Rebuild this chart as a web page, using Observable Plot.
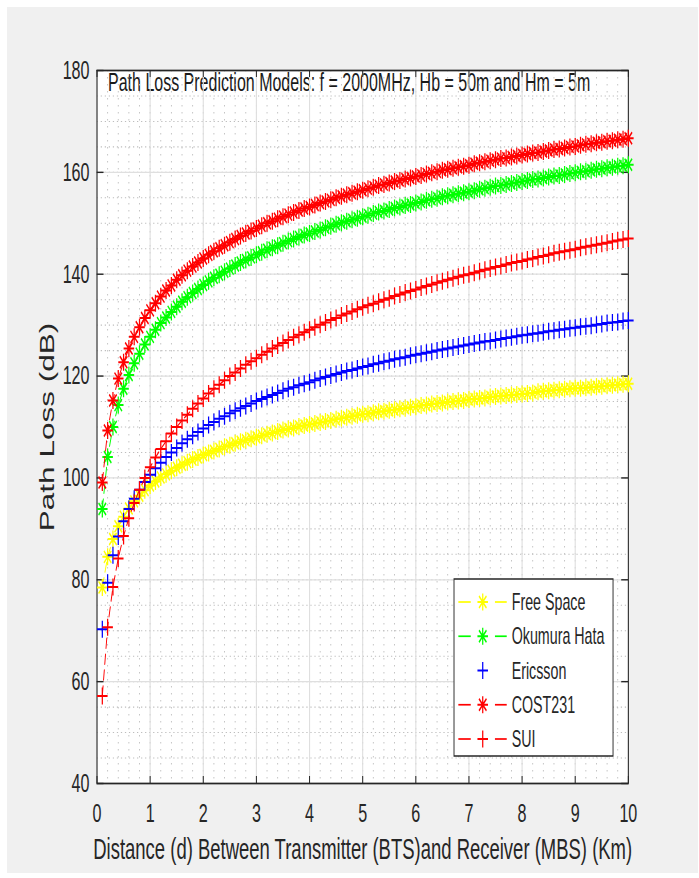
<!DOCTYPE html>
<html><head><meta charset="utf-8">
<script src="https://cdn.jsdelivr.net/npm/d3@7"></script>
<script src="https://cdn.jsdelivr.net/npm/@observablehq/plot@0.6"></script>
<style>
html,body{margin:0;padding:0;background:#fff;}
#bg{position:absolute;left:7px;top:7px;width:691px;height:866px;background:#f0f0f0;}
#chart{position:absolute;left:0;top:0;width:699px;height:878px;}
</style></head><body>
<div id="bg"></div><div id="chart"></div>
<script>
const distance = [0.1,0.2,0.3,0.4,0.5,0.6,0.7,0.8,0.9,1.0,
1.1,1.2,1.3,1.4,1.5,1.6,1.7,1.8,1.9,2.0,
2.1,2.2,2.3,2.4,2.5,2.6,2.7,2.8,2.9,3.0,
3.1,3.2,3.3,3.4,3.5,3.6,3.7,3.8,3.9,4.0,
4.1,4.2,4.3,4.4,4.5,4.6,4.7,4.8,4.9,5.0,
5.1,5.2,5.3,5.4,5.5,5.6,5.7,5.8,5.9,6.0,
6.1,6.2,6.3,6.4,6.5,6.6,6.7,6.8,6.9,7.0,
7.1,7.2,7.3,7.4,7.5,7.6,7.7,7.8,7.9,8.0,
8.1,8.2,8.3,8.4,8.5,8.6,8.7,8.8,8.9,9.0,
9.1,9.2,9.3,9.4,9.5,9.6,9.7,9.8,9.9,10.0];

const freeSpace = [78.5,84.5,88.0,90.5,92.4,94.0,95.4,96.5,97.6,98.5,
99.3,100.1,100.7,101.4,102.0,102.6,103.1,103.6,104.0,104.5,
104.9,105.3,105.7,106.1,106.4,106.8,107.1,107.4,107.7,108.0,
108.3,108.6,108.8,109.1,109.4,109.6,109.8,110.1,110.3,110.5,
110.7,110.9,111.1,111.3,111.5,111.7,111.9,112.1,112.3,112.5,
112.6,112.8,113.0,113.1,113.3,113.4,113.6,113.7,113.9,114.0,
114.2,114.3,114.5,114.6,114.7,114.9,115.0,115.1,115.2,115.4,
115.5,115.6,115.7,115.9,116.0,116.1,116.2,116.3,116.4,116.5,
116.6,116.7,116.9,117.0,117.1,117.2,117.3,117.4,117.5,117.6,
117.6,117.7,117.8,117.9,118.0,118.1,118.2,118.3,118.4,118.5];

const okumuraHata = [93.9,104.1,110.0,114.3,117.5,120.2,122.5,124.4,126.2,127.7,
129.1,130.4,131.5,132.6,133.6,134.6,135.5,136.3,137.1,137.9,
138.6,139.3,139.9,140.5,141.1,141.7,142.3,142.8,143.3,143.8,
144.3,144.8,145.2,145.6,146.1,146.5,146.9,147.3,147.7,148.0,
148.4,148.7,149.1,149.4,149.8,150.1,150.4,150.7,151.0,151.3,
151.6,151.9,152.2,152.4,152.7,153.0,153.2,153.5,153.7,154.0,
154.2,154.5,154.7,154.9,155.2,155.4,155.6,155.8,156.0,156.2,
156.4,156.7,156.9,157.1,157.3,157.4,157.6,157.8,158.0,158.2,
158.4,158.6,158.7,158.9,159.1,159.3,159.4,159.6,159.8,159.9,
160.1,160.2,160.4,160.6,160.7,160.9,161.0,161.2,161.3,161.5];

const ericsson = [70.3,79.4,84.8,88.5,91.5,93.9,95.9,97.7,99.2,100.6,
101.9,103.0,104.1,105.0,105.9,106.8,107.6,108.3,109.0,109.7,
110.4,111.0,111.6,112.1,112.7,113.2,113.7,114.1,114.6,115.1,
115.5,115.9,116.3,116.7,117.1,117.5,117.8,118.2,118.5,118.8,
119.2,119.5,119.8,120.1,120.4,120.7,121.0,121.2,121.5,121.8,
122.0,122.3,122.5,122.8,123.0,123.3,123.5,123.7,124.0,124.2,
124.4,124.6,124.8,125.0,125.2,125.4,125.6,125.8,126.0,126.2,
126.4,126.6,126.8,126.9,127.1,127.3,127.5,127.6,127.8,128.0,
128.1,128.3,128.4,128.6,128.8,128.9,129.1,129.2,129.4,129.5,
129.7,129.8,129.9,130.1,130.2,130.4,130.5,130.6,130.8,130.9];

const cost231 = [99.1,109.3,115.2,119.5,122.7,125.4,127.7,129.6,131.4,132.9,
134.3,135.6,136.8,137.8,138.9,139.8,140.7,141.5,142.3,143.1,
143.8,144.5,145.1,145.7,146.3,146.9,147.5,148.0,148.5,149.0,
149.5,150.0,150.4,150.9,151.3,151.7,152.1,152.5,152.9,153.2,
153.6,154.0,154.3,154.6,155.0,155.3,155.6,155.9,156.2,156.5,
156.8,157.1,157.4,157.6,157.9,158.2,158.4,158.7,158.9,159.2,
159.4,159.7,159.9,160.1,160.4,160.6,160.8,161.0,161.2,161.4,
161.7,161.9,162.1,162.3,162.5,162.7,162.8,163.0,163.2,163.4,
163.6,163.8,163.9,164.1,164.3,164.5,164.6,164.8,165.0,165.1,
165.3,165.5,165.6,165.8,165.9,166.1,166.2,166.4,166.5,166.7];

const sui = [57.2,70.7,78.6,84.2,88.6,92.1,95.1,97.7,100.0,102.1,
104.0,105.7,107.2,108.7,110.0,111.3,112.4,113.6,114.6,115.6,
116.6,117.5,118.3,119.2,120.0,120.7,121.5,122.2,122.9,123.5,
124.2,124.8,125.4,126.0,126.5,127.1,127.6,128.1,128.6,129.1,
129.6,130.1,130.5,131.0,131.4,131.9,132.3,132.7,133.1,133.5,
133.9,134.2,134.6,135.0,135.3,135.7,136.0,136.4,136.7,137.0,
137.4,137.7,138.0,138.3,138.6,138.9,139.2,139.5,139.8,140.0,
140.3,140.6,140.9,141.1,141.4,141.6,141.9,142.2,142.4,142.6,
142.9,143.1,143.4,143.6,143.8,144.1,144.3,144.5,144.7,144.9,
145.2,145.4,145.6,145.8,146.0,146.2,146.4,146.6,146.8,147.0];

const seriesNames = ["Free Space", "Okumura Hata", "Ericsson", "COST231", "SUI"];
const seriesColors = ["#ffff00", "#00ff00", "#0000ff", "#ff0000", "#ff0000"];
const seriesMarkers = ["asterisk", "asterisk", "plus", "asterisk", "plus"];
const seriesDashed = [true, true, false, true, true];
const seriesValues = [freeSpace, okumuraHata, ericsson, cost231, sui];

const xTicks = [0, 1, 2, 3, 4, 5, 6, 7, 8, 9, 10];
const yTicks = [40, 60, 80, 100, 120, 140, 160, 180];
const titleText = "Path Loss Prediction Models: f = 2000MHz, Hb = 50m and Hm = 5m";
const xLabel = "Distance (d) Between Transmitter (BTS)and Receiver (MBS) (Km)";
const yLabel = "Path Loss (dB)";

// layout (virtual, horizontally compressed when displayed)
const VW = 1127, H = 878;
const ML = 155.9, MR = 114.4, MT = 70, MB = 95;
const FW = VW - ML - MR, FH = H - MT - MB;
const AX = "#262626";

const plusSym = {draw(ctx, size) {
  const r = Math.sqrt(size / Math.PI);
  ctx.moveTo(-r, 0); ctx.lineTo(r, 0); ctx.moveTo(0, -r); ctx.lineTo(0, r);
}};
const astSym = {draw(ctx, size) {
  const r = Math.sqrt(size / Math.PI), q = r * Math.SQRT1_2;
  ctx.moveTo(-r, 0); ctx.lineTo(r, 0); ctx.moveTo(0, -r); ctx.lineTo(0, r);
  ctx.moveTo(-q, -q); ctx.lineTo(q, q); ctx.moveTo(-q, q); ctx.lineTo(q, -q);
}};
const symOf = m => m === "plus" ? plusSym : astSym;
const MR_SIZE = 8.5, MSW = 2.0;

const xMinor = d3.range(0.2, 10, 0.2);
const yMinor = d3.range(45, 180, 5);

const marks = [
  Plot.frame({fill: "white", stroke: null}),
  Plot.text([titleText], {frameAnchor: "top-left", dx: 17.8, dy: 20.7, lineAnchor: "bottom", textAnchor: "start", fontSize: 25.8, fill: "#1a1a1a", text: d => d}),
  Plot.ruleX(xMinor, {x: d => d, stroke: "#bdbdbd", strokeWidth: 1.4, strokeDasharray: "1.5,5.5"}),
  Plot.ruleY(yMinor, {y: d => d, stroke: "#bdbdbd", strokeWidth: 1.1, strokeDasharray: "2,4.5"}),
  Plot.ruleX(xTicks, {x: d => d, stroke: "#dfdfdf", strokeWidth: 1.8}),
  Plot.ruleY(yTicks, {y: d => d, stroke: "#dfdfdf", strokeWidth: 1.3}),
  Plot.frame({stroke: AX, strokeWidth: 1.7}),
  Plot.tickX(xTicks, {x: d => d, insetTop: FH - 7, stroke: AX, strokeWidth: 1.6}),
  Plot.tickX(xTicks, {x: d => d, insetBottom: FH - 7, stroke: AX, strokeWidth: 1.6}),
  Plot.tickY(yTicks, {y: d => d, insetRight: FW - 11, stroke: AX, strokeWidth: 1.4}),
  Plot.tickY(yTicks, {y: d => d, insetLeft: FW - 11, stroke: AX, strokeWidth: 1.4}),
  Plot.axisX(xTicks, {tickSize: 0, tickPadding: 20, fontSize: 26, fill: AX, label: null}),
  Plot.axisY(yTicks, {tickSize: 0, tickPadding: 12, fontSize: 26, fill: AX, label: null}),
  Plot.text([xLabel], {frameAnchor: "bottom", dy: 75, lineAnchor: "bottom", textAnchor: "middle", fontSize: 29.8, fill: AX, text: d => d}),
  Plot.text([yLabel], {frameAnchor: "left", dx: 87 - ML, rotate: -90, lineAnchor: "bottom", textAnchor: "middle", fontSize: 31.5, fill: AX, text: d => d})
];

seriesValues.forEach((vals, k) => {
  if (seriesDashed[k]) marks.push(Plot.line(distance, {x: distance, y: vals, stroke: seriesColors[k], strokeWidth: 1.5, strokeDasharray: "10,6"}));
  marks.push(Plot.dot(distance, {x: distance, y: vals, symbol: symOf(seriesMarkers[k]), r: MR_SIZE, stroke: seriesColors[k], fill: "none", strokeWidth: MSW}));
});

const svg = Plot.plot({
  width: VW, height: H,
  marginLeft: ML, marginRight: MR, marginTop: MT, marginBottom: MB,
  x: {domain: [0, 10]},
  y: {domain: [40, 180]},
  style: {fontFamily: "'Liberation Sans', Arial, sans-serif", background: "transparent", color: AX},
  marks
});

// legend (drawn in the same compressed coordinate space)
const lg = d3.select(svg).append("g").attr("class", "legend").attr("text-anchor", "start");
const LX0 = 732, LY0 = 579, LW = 256.4, LH = 177;
lg.append("rect").attr("x", LX0).attr("y", LY0).attr("width", LW).attr("height", LH)
  .attr("fill", "white").attr("stroke", AX).attr("stroke-width", 1.5);
seriesNames.forEach((name, k) => {
  const cy = 602 + 34.25 * k;
  const c = seriesColors[k];
  if (seriesDashed[k]) {
    lg.append("line").attr("x1", 739).attr("x2", 759).attr("y1", cy).attr("y2", cy).attr("stroke", c).attr("stroke-width", 1.7);
    lg.append("line").attr("x1", 798).attr("x2", 817).attr("y1", cy).attr("y2", cy).attr("stroke", c).attr("stroke-width", 1.7);
  }
  lg.append("path").attr("d", d3.symbol(symOf(seriesMarkers[k]), MR_SIZE * MR_SIZE * Math.PI)())
    .attr("transform", `translate(778.3,${cy})`).attr("stroke", c).attr("fill", "none").attr("stroke-width", MSW);
  lg.append("text").attr("x", 825).attr("y", cy).attr("dy", "0.35em").attr("text-anchor", "start")
    .attr("font-size", 23).attr("fill", AX).text(name);
});

svg.setAttribute("width", 699);
svg.setAttribute("height", H);
svg.setAttribute("viewBox", `0 0 ${VW} ${H}`);
svg.setAttribute("preserveAspectRatio", "none");
svg.style.width = "699px";
svg.style.height = H + "px";
svg.style.maxWidth = "none";
document.getElementById("chart").appendChild(svg);
</script></body></html>
